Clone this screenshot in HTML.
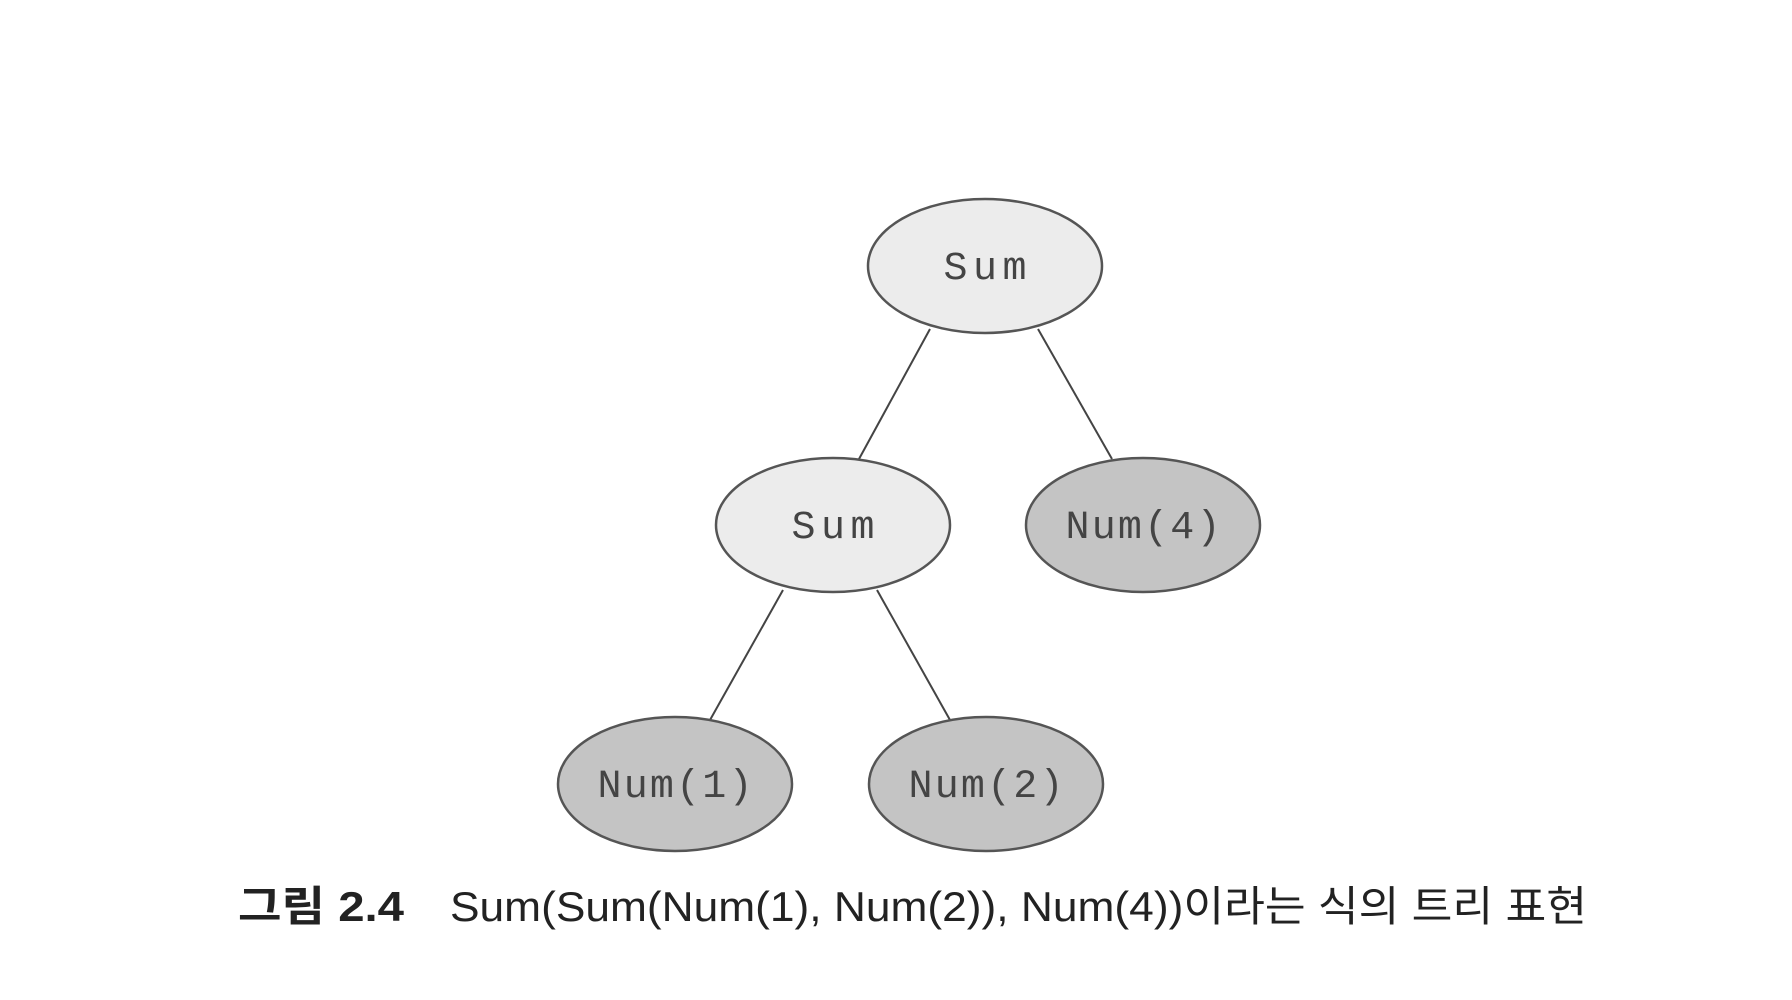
<!DOCTYPE html>
<html><head><meta charset="utf-8"><style>
html,body{margin:0;padding:0;background:#fff;width:1792px;height:1000px;overflow:hidden}
</style></head><body>
<svg width="1792" height="1000" viewBox="0 0 1792 1000" xmlns="http://www.w3.org/2000/svg">
<g transform="translate(-5,-2)">
<g stroke="#444" stroke-width="2" fill="none">
<line x1="935" y1="331" x2="864" y2="461"/>
<line x1="1043" y1="331" x2="1117" y2="461"/>
<line x1="788" y1="592" x2="715" y2="722"/>
<line x1="882" y1="592" x2="955" y2="722"/>
</g>
<g stroke="#555" stroke-width="2.5">
<ellipse cx="990" cy="268" rx="117" ry="67" fill="#ececec"/>
<ellipse cx="838" cy="527" rx="117" ry="67" fill="#ececec"/>
<ellipse cx="1148" cy="527" rx="117" ry="67" fill="#c4c4c4"/>
<ellipse cx="680" cy="786" rx="117" ry="67" fill="#c4c4c4"/>
<ellipse cx="991" cy="786" rx="117" ry="67" fill="#c4c4c4"/>
</g>
<g font-family="Liberation Mono, monospace" font-size="40" fill="#444" text-anchor="middle">
<text x="990" y="281" textLength="83">Sum</text>
<text x="838" y="540" textLength="83">Sum</text>
<text x="1148" y="540" textLength="155">Num(4)</text>
<text x="680" y="799" textLength="155">Num(1)</text>
<text x="991" y="799" textLength="155">Num(2)</text>
</g>
</g>
<g font-family="Liberation Sans, Noto Sans CJK KR, sans-serif" font-size="42" fill="#222">
<text x="238" y="921" font-weight="bold" textLength="166" lengthAdjust="spacingAndGlyphs">그림 2.4</text>
<text x="450" y="921" textLength="1137" lengthAdjust="spacingAndGlyphs">Sum(Sum(Num(1), Num(2)), Num(4))이라는 식의 트리 표현</text>
</g>
</svg>
</body></html>
